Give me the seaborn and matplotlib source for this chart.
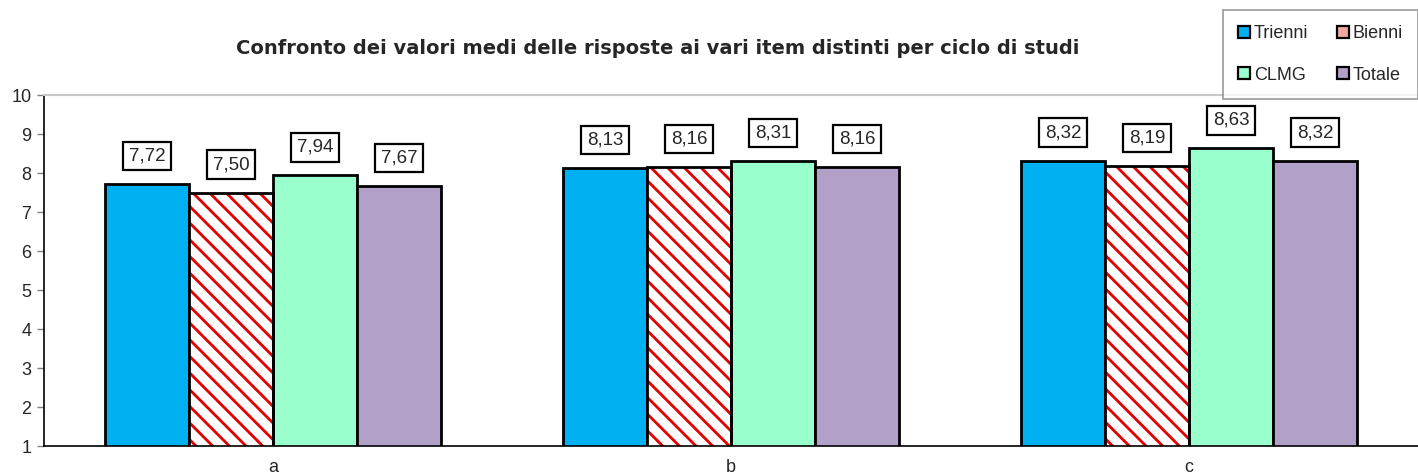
import matplotlib
matplotlib.use("Agg")
import matplotlib.pyplot as plt
from matplotlib.patches import Patch, Rectangle
import seaborn as sns
import pandas as pd

# Average scores per item, split by study cycle
items = ["a", "b", "c"]
series = ["Trienni", "Bienni", "CLMG", "Totale"]
trienni = [7.72, 8.13, 8.32]
bienni = [7.50, 8.16, 8.19]
clmg = [7.94, 8.31, 8.63]
totale = [7.67, 8.16, 8.32]
y_ticks = [1, 2, 3, 4, 5, 6, 7, 8, 9, 10]

title = "Confronto dei valori medi delle risposte ai vari item distinti per ciclo di studi"

colors = {"Trienni": "#00B0F0", "Bienni": "#FFFFFF", "CLMG": "#99FFCC", "Totale": "#B1A0C7"}
legend_colors = {"Trienni": "#00B0F0", "Bienni": "#F4A8A2", "CLMG": "#99FFCC", "Totale": "#B1A0C7"}
hatch_red = "#E00000"

df = pd.DataFrame({
    "item": items * 4,
    "ciclo": [s for s in series for _ in items],
    "valore": trienni + bienni + clmg + totale,
})

sns.set_theme(style="white")
plt.rcParams["font.family"] = ["Liberation Sans", "DejaVu Sans"]
plt.rcParams["hatch.linewidth"] = 2.0

fig = plt.figure(figsize=(14.18, 4.76), dpi=100)
ax = fig.add_axes([0.031, 0.063, 0.969, 0.7374])

sns.barplot(data=df, x="item", y="valore", hue="ciclo", hue_order=series,
            order=items, palette=colors, width=0.733, gap=0,
            edgecolor="black", linewidth=2, saturation=1, legend=False, ax=ax)

for name, cont in zip(series, ax.containers):
    for bar in cont:
        if name == "Bienni":
            bar.set_hatch("\\\\")
            if hasattr(bar, "set_hatchcolor"):
                bar.set_hatchcolor(hatch_red)
                bar.set_edgecolor("black")
            else:
                # older matplotlib: hatch follows the edge colour, so outline separately
                bar.set_edgecolor(hatch_red)
                bar.set_linewidth(0)
                ax.add_patch(Rectangle(bar.get_xy(), bar.get_width(), bar.get_height(),
                                       fill=False, edgecolor="black", linewidth=2,
                                       zorder=bar.get_zorder() + 0.1))
        else:
            bar.set_edgecolor("black")
    labels = [f"{v:.2f}".replace(".", ",") for v in cont.datavalues]
    ax.bar_label(cont, labels=labels, padding=14, fontsize=13.5,
                 bbox=dict(boxstyle="square,pad=0.3", facecolor="white",
                           edgecolor="black", linewidth=1.6))

ax.set_ylim(1, 10)
ax.set_yticks(y_ticks)
ax.set_xlim(-0.5, 2.5)
ax.set_xlabel("")
ax.set_ylabel("")
ax.tick_params(axis="y", which="major", direction="out", length=5, width=1,
               color="#808080", labelsize=13, pad=4, left=True)
ax.tick_params(axis="x", length=0, labelsize=13, pad=9)

for side in ["left", "bottom"]:
    ax.spines[side].set_color("black")
    ax.spines[side].set_linewidth(1.2)
ax.spines["top"].set_color("#C8C8C8")
ax.spines["top"].set_linewidth(1.5)
ax.spines["right"].set_visible(False)

fig.text(0.464, 0.898, title, ha="center", va="center", fontsize=14,
         fontweight="bold", family=["DejaVu Sans"])

# legend laid out row by row: Trienni, Bienni / CLMG, Totale
legend_order = ["Trienni", "CLMG", "Bienni", "Totale"]
handles = [Patch(facecolor=legend_colors[s], edgecolor="black", linewidth=1.6, label=s)
           for s in legend_order]
leg = fig.legend(handles=handles, ncol=2, loc="upper right",
                 bbox_to_anchor=(1.0, 0.979), borderaxespad=0, fontsize=13,
                 frameon=True, fancybox=False, edgecolor="#808080",
                 handlelength=0.65, handleheight=0.65, handletextpad=0.2,
                 columnspacing=1.6, labelspacing=1.35, borderpad=0.85)
leg.get_frame().set_linewidth(1.2)

fig.savefig("out.png", dpi=100, facecolor="white")
